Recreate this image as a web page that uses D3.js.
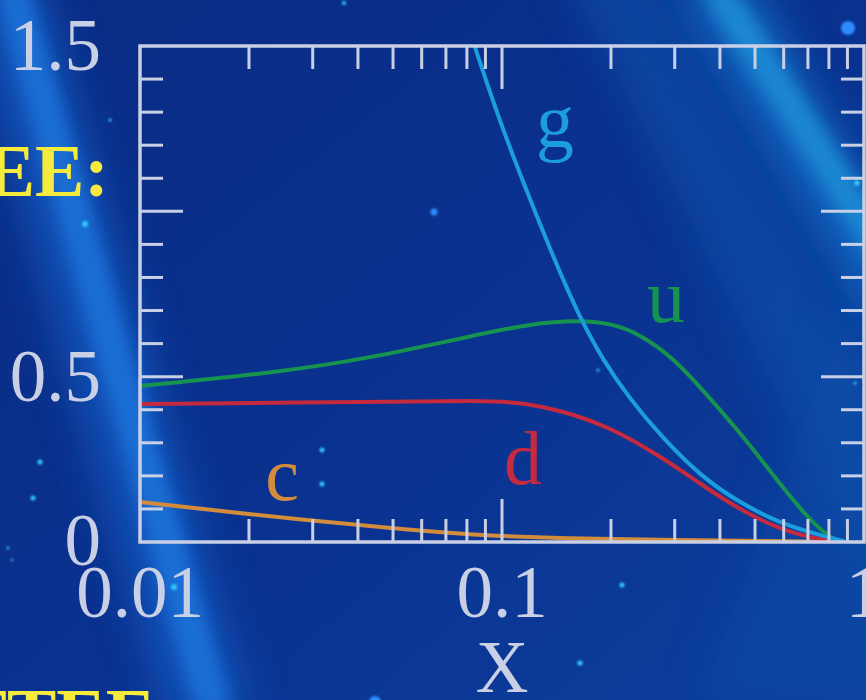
<!DOCTYPE html>
<html>
<head>
<meta charset="utf-8">
<script src="https://cdn.jsdelivr.net/npm/d3@7"></script>
<style>
  body { margin: 0; background: #0a2f88; overflow: hidden; }
  #wrapper svg { display: block; }
  .tick-label, .axis-title, .series-label, .banner {
    font-family: "Liberation Serif", "DejaVu Serif", serif;
  }
  .tick-label, .axis-title { fill: #c9d0e6; font-size: 73px; }
  .series-label { font-size: 76px; }
  .banner { fill: #f6ea3c; font-weight: bold; font-size: 74px; }
  .frame, .tick { stroke: #c9d0e6; fill: none; }
  .curve { fill: none; stroke-width: 4; stroke-linecap: round; }
</style>
</head>
<body>
<div id="wrapper"></div>
<script>
// values: [x, xf(x)]
const xTickLabels = [0.01, 0.1, 1]
const yTickLabels = [0, 0.5, 1.5]

const gluon = [
  [0.075, 1.66], [0.0842, 1.497], [0.0988, 1.267], [0.1218, 1.013],
  [0.1446, 0.814], [0.1643, 0.678], [0.19, 0.55], [0.2258, 0.432],
  [0.2733, 0.323], [0.3524, 0.2], [0.4545, 0.118], [0.586, 0.057],
  [0.755, 0.021], [0.875, 0.003],
]
const upQuark = [
  [0.01, 0.472], [0.0233, 0.511], [0.0432, 0.556], [0.08, 0.62],
  [0.1218, 0.662], [0.1643, 0.671], [0.2026, 0.66], [0.2405, 0.628],
  [0.2968, 0.559], [0.3755, 0.435], [0.4545, 0.33], [0.5395, 0.227],
  [0.6366, 0.127], [0.7228, 0.057], [0.8054, 0.015], [0.86, 0.0],
]
const downQuark = [
  [0.01, 0.417], [0.0357, 0.423], [0.0927, 0.429], [0.1143, 0.42],
  [0.1446, 0.399], [0.1988, 0.348], [0.2733, 0.26], [0.3524, 0.176],
  [0.4545, 0.097], [0.586, 0.038], [0.7228, 0.012], [0.832, 0.0],
]
const charmQuark = [
  [0.01, 0.121], [0.02, 0.084], [0.03, 0.065], [0.049, 0.042],
  [0.0832, 0.021], [0.1446, 0.011], [0.3524, 0.005], [0.805, 0.001],
]
const seriesNames = ["g", "u", "d", "c"]
const seriesColors = ["#1c9ede", "#15934f", "#c62a3e", "#d28c3c"]

const drawChart = () => {
  const xAccessor = (d) => d[0]
  const yAccessor = (d) => d[1]

  const dimensions = {
    width: 866,
    height: 700,
    margin: { top: 46, right: 2, bottom: 158, left: 140 },
    boundedWidth: 0,
    boundedHeight: 0,
  }
  dimensions.boundedWidth =
    dimensions.width - dimensions.margin.left - dimensions.margin.right
  dimensions.boundedHeight =
    dimensions.height - dimensions.margin.top - dimensions.margin.bottom

  const wrapper = d3
    .select("#wrapper")
    .append("svg")
    .attr("width", dimensions.width)
    .attr("height", dimensions.height)

  // background: dark blue with light streaks and stars
  const defs = wrapper.append("defs")
  const bgGradient = defs
    .append("linearGradient")
    .attr("id", "bg-gradient")
    .attr("x1", "0%").attr("y1", "0%")
    .attr("x2", "100%").attr("y2", "100%")
  bgGradient.append("stop").attr("offset", "0%").attr("stop-color", "#0a2c84")
  bgGradient.append("stop").attr("offset", "55%").attr("stop-color", "#0a3290")
  bgGradient.append("stop").attr("offset", "100%").attr("stop-color", "#0c3f9e")

  defs.append("filter").attr("id", "blur-wide")
    .attr("x", "-50%").attr("y", "-50%").attr("width", "200%").attr("height", "200%")
    .append("feGaussianBlur").attr("stdDeviation", 22)
  defs.append("filter").attr("id", "blur-narrow")
    .attr("x", "-50%").attr("y", "-50%").attr("width", "200%").attr("height", "200%")
    .append("feGaussianBlur").attr("stdDeviation", 8)
  defs.append("filter").attr("id", "glow")
    .attr("x", "-200%").attr("y", "-200%").attr("width", "500%").attr("height", "500%")
    .append("feGaussianBlur").attr("stdDeviation", 1.2)

  wrapper.append("rect")
    .attr("width", dimensions.width)
    .attr("height", dimensions.height)
    .attr("fill", "url(#bg-gradient)")

  const background = wrapper.append("g")
  const streak = (points, color, opacity, filter) =>
    background.append("path")
      .attr("d", d3.line()(points) + "Z")
      .attr("fill", color)
      .attr("opacity", opacity)
      .attr("filter", `url(#${filter})`)

  streak([[560, -40], [640, -40], [900, 420], [900, 640]], "#0f56b0", 0.55, "blur-wide")
  streak([[700, 700], [866, 260], [900, 700]], "#0e4ea8", 0.5, "blur-wide")
  streak([[-40, -20], [40, -20], [250, 720], [170, 720]], "#1262cc", 0.7, "blur-wide")
  streak([[-5, -10], [30, -10], [232, 710], [196, 710]], "#1b78e0", 0.75, "blur-narrow")
  streak([[670, -20], [750, -20], [900, 250], [880, 330]], "#1679d0", 0.75, "blur-wide")
  streak([[700, -10], [735, -10], [885, 225], [872, 262]], "#1e92da", 0.8, "blur-narrow")

  const stars = [
    [848, 28, 7], [434, 212, 3.5], [85, 224, 3], [110, 120, 1.6],
    [40, 462, 2.5], [33, 498, 2.5], [322, 450, 2.5], [322, 484, 2.5],
    [622, 585, 2.5], [598, 370, 1.6], [580, 663, 2.6], [344, 3, 2],
    [857, 183, 2.8], [855, 383, 1.6], [8, 548, 1.4], [12, 560, 1.2],
    [174, 587, 3], [375, 702, 6],
  ]
  background.selectAll(".star")
    .data(stars)
    .join("circle")
    .attr("class", "star")
    .attr("cx", (d) => d[0])
    .attr("cy", (d) => d[1])
    .attr("r", (d) => d[2])
    .attr("fill", (d) => (d[2] > 3.2 ? "#2f8cff" : "#33c8ff"))
    .attr("filter", "url(#glow)")

  // banner text partly outside the picture
  wrapper.append("text")
    .attr("class", "banner")
    .attr("x", 109).attr("y", 196)
    .attr("text-anchor", "end")
    .text("COMMITTEE:")
  wrapper.append("text")
    .attr("class", "banner")
    .attr("x", 155).attr("y", 740)
    .attr("text-anchor", "end")
    .text("COMMITTEE")

  const bounds = wrapper
    .append("g")
    .style(
      "transform",
      `translate(${dimensions.margin.left}px, ${dimensions.margin.top}px)`
    )

  // scales
  const xScale = d3
    .scaleLog()
    .domain([0.01, 1])
    .range([0, dimensions.boundedWidth])

  const yScale = d3
    .scaleLinear()
    .domain([0, 1.5])
    .range([dimensions.boundedHeight, 0])

  const colorScale = d3.scaleOrdinal().domain(seriesNames).range(seriesColors)

  // curves
  bounds.append("clipPath").attr("id", "plot-clip")
    .append("rect")
    .attr("width", dimensions.boundedWidth)
    .attr("height", dimensions.boundedHeight)

  const lineGenerator = d3
    .line()
    .x((d) => xScale(xAccessor(d)))
    .y((d) => yScale(yAccessor(d)))
    .curve(d3.curveBasis)

  const series = [gluon, upQuark, downQuark, charmQuark]
  const curves = bounds.append("g").attr("clip-path", "url(#plot-clip)")
  // draw c first so the others sit on top of it
  ;[3, 2, 1, 0].forEach((i) => {
    curves.append("path")
      .attr("class", "curve")
      .attr("d", lineGenerator(series[i]))
      .attr("stroke", colorScale(seriesNames[i]))
  })

  // series labels, anchored in data units
  const labelAnchors = { g: [0.14, 1.194], u: [0.284, 0.665], d: [0.1143, 0.175], c: [0.0247, 0.127] }
  seriesNames.forEach((name) => {
    const [lx, ly] = labelAnchors[name]
    bounds.append("text")
      .attr("class", "series-label")
      .attr("x", xScale(lx))
      .attr("y", yScale(ly))
      .attr("text-anchor", "middle")
      .attr("fill", colorScale(name))
      .text(name)
  })

  // frame and ticks
  const minorLength = 23
  const majorLength = 43
  const ticks = bounds.append("g")

  const isDecade = (d) =>
    Math.abs(Math.log10(d) - Math.round(Math.log10(d))) < 1e-6
  const xTicks = xScale.ticks().filter((d) => d > 0.0100001 && d < 0.99999)
  xTicks.forEach((d) => {
    const len = isDecade(d) ? majorLength : minorLength
    const x = xScale(d)
    ticks.append("line").attr("class", "tick").attr("stroke-width", 3)
      .attr("x1", x).attr("x2", x)
      .attr("y1", 0).attr("y2", len)
    ticks.append("line").attr("class", "tick").attr("stroke-width", 3)
      .attr("x1", x).attr("x2", x)
      .attr("y1", dimensions.boundedHeight)
      .attr("y2", dimensions.boundedHeight - len)
  })

  const yTicks = yScale.ticks(15).filter((d) => d > 0.001 && d < 1.499)
  yTicks.forEach((d) => {
    const len = Math.abs(d * 2 - Math.round(d * 2)) < 1e-6 ? majorLength : minorLength
    const y = yScale(d)
    ticks.append("line").attr("class", "tick").attr("stroke-width", 3)
      .attr("x1", 0).attr("x2", len)
      .attr("y1", y).attr("y2", y)
    ticks.append("line").attr("class", "tick").attr("stroke-width", 3)
      .attr("x1", dimensions.boundedWidth)
      .attr("x2", dimensions.boundedWidth - len)
      .attr("y1", y).attr("y2", y)
  })

  bounds.append("rect")
    .attr("class", "frame")
    .attr("width", dimensions.boundedWidth)
    .attr("height", dimensions.boundedHeight)
    .attr("stroke-width", 3.5)

  // tick labels
  bounds.selectAll(".x-label")
    .data(xTickLabels)
    .join("text")
    .attr("class", "tick-label x-label")
    .attr("x", (d) => xScale(d))
    .attr("y", dimensions.boundedHeight + 75)
    .attr("text-anchor", "middle")
    .text((d) => d)

  bounds.selectAll(".y-label")
    .data(yTickLabels)
    .join("text")
    .attr("class", "tick-label y-label")
    .attr("x", -39)
    .attr("y", (d) => yScale(d) + (d === 0 ? 23 : 24))
    .attr("text-anchor", "end")
    .text((d) => d)

  bounds.append("text")
    .attr("class", "axis-title")
    .attr("x", xScale(0.1))
    .attr("y", dimensions.boundedHeight + 150)
    .attr("text-anchor", "middle")
    .text("X")
}

drawChart()
</script>
</body>
</html>
